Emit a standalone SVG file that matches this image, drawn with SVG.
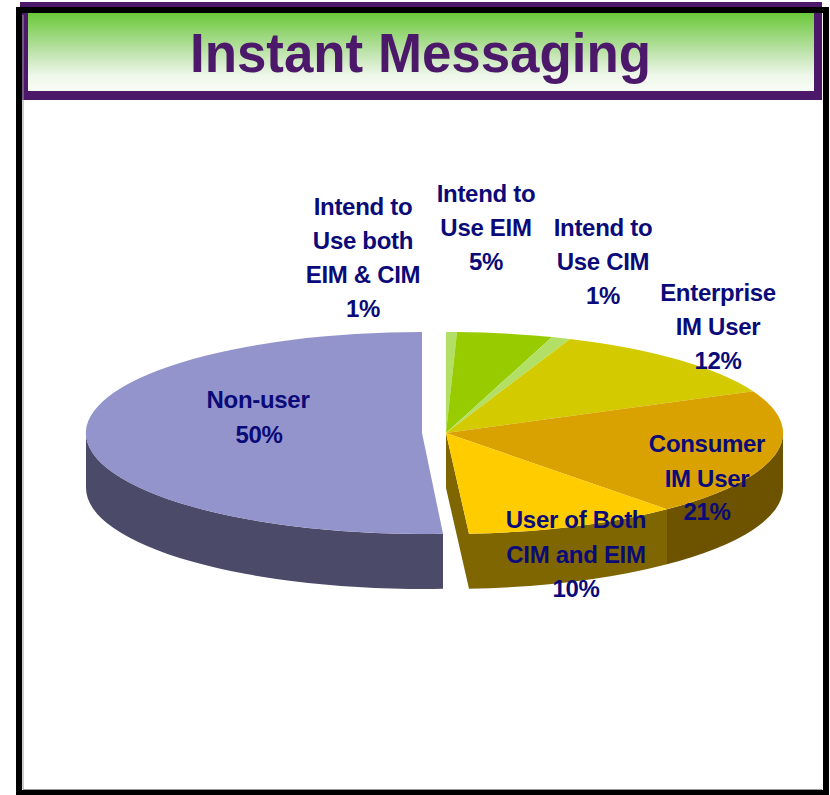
<svg xmlns="http://www.w3.org/2000/svg" width="830" height="795" viewBox="0 0 830 795">
<defs>
<linearGradient id="hdr" x1="0" y1="0" x2="0" y2="1">
<stop offset="0" stop-color="#6bc83a"/>
<stop offset="0.45" stop-color="#b5e0a0"/>
<stop offset="0.8" stop-color="#eef7ea"/>
<stop offset="1" stop-color="#f8fcf6"/>
</linearGradient>
</defs>
<style>
.lbl{font-family:"Liberation Sans",Arial,sans-serif;font-weight:bold;font-size:24px;fill:#0a0a78;text-anchor:middle;letter-spacing:-0.3px}
.title{font-family:"Liberation Sans",Arial,sans-serif;font-weight:bold;font-size:55px;fill:#4b186a;text-anchor:middle}
</style>
<rect x="0" y="0" width="830" height="795" fill="#ffffff"/>
<g id="header">
<rect x="20" y="2" width="802" height="98" fill="#4b186a"/>
</g>
<g id="frame">
<rect x="19" y="10" width="807" height="783" fill="none" stroke="#000000" stroke-width="6"/>
<line x1="23" y1="15" x2="23" y2="789" stroke="#9a9a9a" stroke-width="1"/>
<line x1="23" y1="789.5" x2="822" y2="789.5" stroke="#9a9a9a" stroke-width="1"/>
</g>
<g id="title">
<rect x="28" y="13" width="786" height="78" fill="url(#hdr)"/>
<text class="title" x="420.5" y="72" textLength="461" lengthAdjust="spacingAndGlyphs">Instant Messaging</text>
</g>
<g id="pie">
<g id="nonuser">
<path d="M86,433 A336,101 0 0 0 443,533.8 L443,588.8 A336,101 0 0 1 86,488 Z" fill="#4b4a69"/>
<path d="M422,433 L422,332 A336,101 0 1 0 443,533.8 Z" fill="#9494cc"/>
</g>
<g id="sides">
<path d="M783,433 A337,101 0 0 1 667,509.3 L667,564.3 A337,101 0 0 0 783,488 Z" fill="#6d5200"/>
<path d="M667,509.3 A337,101 0 0 1 469,533.8 L469,588.8 A337,101 0 0 0 667,564.3 Z" fill="#806600"/>
<path d="M446,433 L469,533.8 L469,588.8 L446,488 Z" fill="#806600"/>
</g>
<g id="slice-intend-both">
<path d="M446,433 L446,332 A337,101 0 0 1 457,332.05 Z" fill="#b2e066"/>
</g>
<g id="slice-intend-eim">
<path d="M446,433 L457,332.05 A337,101 0 0 1 552,337.1 Z" fill="#99cc00"/>
</g>
<g id="slice-intend-cim">
<path d="M446,433 L552,337.1 A337,101 0 0 1 570,339.1 Z" fill="#b2e066"/>
</g>
<g id="slice-enterprise">
<path d="M446,433 L570,339.1 A337,101 0 0 1 753,391.3 Z" fill="#d3cb00"/>
</g>
<g id="slice-consumer">
<path d="M446,433 L753,391.3 A337,101 0 0 1 667,509.3 Z" fill="#daa200"/>
</g>
<g id="slice-both">
<path d="M446,433 L667,509.3 A337,101 0 0 1 469,533.8 Z" fill="#ffcc00"/>
</g>
</g>
<g id="labels">
<g id="label-intend-both">
<text class="lbl" x="363" y="215">Intend to</text>
<text class="lbl" x="363" y="249">Use both</text>
<text class="lbl" x="363" y="283">EIM &amp; CIM</text>
<text class="lbl" x="363" y="317">1%</text>
</g>
<g id="label-intend-eim">
<text class="lbl" x="486" y="202">Intend to</text>
<text class="lbl" x="486" y="236">Use EIM</text>
<text class="lbl" x="486" y="270">5%</text>
</g>
<g id="label-intend-cim">
<text class="lbl" x="603" y="236">Intend to</text>
<text class="lbl" x="603" y="270">Use CIM</text>
<text class="lbl" x="603" y="304">1%</text>
</g>
<g id="label-enterprise">
<text class="lbl" x="718" y="301">Enterprise</text>
<text class="lbl" x="718" y="335">IM User</text>
<text class="lbl" x="718" y="369">12%</text>
</g>
<g id="label-nonuser">
<text class="lbl" x="258" y="408">Non-user</text>
<text class="lbl" x="259" y="443">50%</text>
</g>
<g id="label-consumer">
<text class="lbl" x="707" y="452">Consumer</text>
<text class="lbl" x="707" y="487">IM User</text>
<text class="lbl" x="707" y="520">21%</text>
</g>
<g id="label-both">
<text class="lbl" x="576" y="528">User of Both</text>
<text class="lbl" x="576" y="563">CIM and EIM</text>
<text class="lbl" x="576" y="597">10%</text>
</g>
</g>
</svg>
